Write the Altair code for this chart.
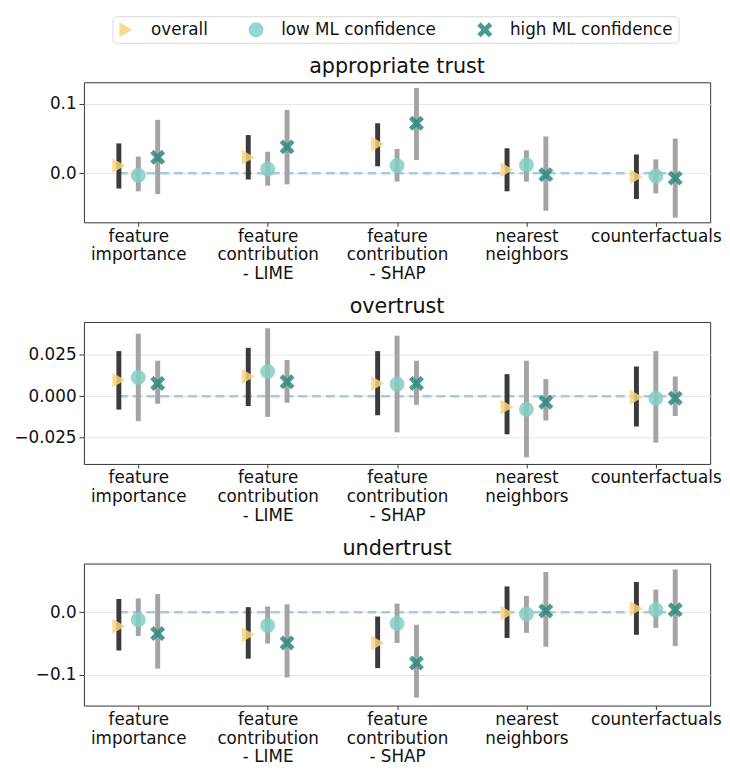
import json
import altair as alt
import pandas as pd

# ---- categories / labels ----
methods = ["feature importance", "feature contribution - LIME", "feature contribution - SHAP",
           "nearest neighbors", "counterfactuals"]
method_lines = [["feature", "importance"], ["feature", "contribution", "- LIME"],
                ["feature", "contribution", "- SHAP"], ["nearest", "neighbors"], ["counterfactuals"]]
groups = ["overall", "low ML confidence", "high ML confidence"]
panels = ["appropriate trust", "overtrust", "undertrust"]

# ---- values: rows = groups (overall, low, high), columns = methods ----
appropriate_mean = [[0.011, 0.023, 0.042, 0.005, -0.005],
                    [-0.003, 0.006, 0.011, 0.012, -0.004],
                    [0.023, 0.038, 0.072, -0.002, -0.007]]
appropriate_lo = [[-0.022, -0.009, 0.010, -0.026, -0.037],
                  [-0.026, -0.018, -0.012, -0.012, -0.029],
                  [-0.030, -0.016, 0.019, -0.054, -0.064]]
appropriate_hi = [[0.043, 0.055, 0.072, 0.036, 0.027],
                  [0.024, 0.031, 0.035, 0.033, 0.020],
                  [0.077, 0.091, 0.123, 0.053, 0.050]]

overtrust_mean = [[0.0097, 0.0119, 0.0077, -0.0065, -0.0006],
                  [0.0113, 0.0149, 0.0073, -0.0079, -0.0012],
                  [0.0077, 0.0087, 0.0077, -0.0036, -0.0012]]
overtrust_lo = [[-0.0081, -0.0060, -0.0115, -0.0230, -0.0183],
                [-0.0151, -0.0125, -0.0218, -0.0369, -0.0280],
                [-0.0046, -0.0040, -0.0052, -0.0147, -0.0119]]
overtrust_hi = [[0.0272, 0.0292, 0.0272, 0.0133, 0.0179],
                [0.0377, 0.0410, 0.0365, 0.0214, 0.0272],
                [0.0214, 0.0218, 0.0214, 0.0103, 0.0119]]

undertrust_mean = [[-0.0225, -0.036, -0.049, -0.0016, 0.006],
                   [-0.012, -0.021, -0.018, -0.003, 0.0037],
                   [-0.034, -0.049, -0.081, 0.002, 0.0037]]
undertrust_lo = [[-0.061, -0.074, -0.089, -0.041, -0.036],
                 [-0.038, -0.050, -0.049, -0.033, -0.025],
                 [-0.090, -0.104, -0.136, -0.055, -0.054]]
undertrust_hi = [[0.021, 0.008, -0.007, 0.041, 0.048],
                 [0.022, 0.009, 0.0136, 0.026, 0.036],
                 [0.029, 0.0126, -0.020, 0.064, 0.068]]

# ---- styling ----
group_offsets = [-0.15, 0.0, 0.15]
group_colors = ["#f7d47e", "#84cfc3", "#2b8a7e"]
bar_colors = ["#3a3a3a", "#a4a4a4", "#a4a4a4"]
X_PATH = ("M-0.55,-1L0,-0.45L0.55,-1L1,-0.55L0.45,0L1,0.55L0.55,1L0,0.45"
          "L-0.55,1L-1,0.55L-0.45,0L-1,-0.55Z")
group_shapes = ["triangle-right", "circle", X_PATH]

label_expr = json.dumps(method_lines) + "[round(datum.value)]"
FONT = "DejaVu Sans"


def make_df(mean, lo, hi):
    rows = []
    for g, grp in enumerate(groups):
        for m, meth in enumerate(methods):
            rows.append(dict(method=meth, group=grp, pos=m + group_offsets[g],
                             mean=mean[g][m], lo=lo[g][m], hi=hi[g][m],
                             barcolor=bar_colors[g]))
    return pd.DataFrame(rows)


def panel(title, mean, lo, hi, ydom, yticks, yfmt, height, first=False):
    df = make_df(mean, lo, hi)
    base = alt.Chart(df)
    xscale = alt.Scale(domain=[-0.42, 4.42], nice=False, zero=False)
    xaxis = alt.Axis(values=[0, 1, 2, 3, 4], labelExpr=label_expr, title=None, grid=False,
                     domain=False, tickSize=4, tickColor="#333", labelFontSize=17,
                     labelLineHeight=19, labelPadding=2, labelColor="#111",
                     labelBaseline="top", labelFont=FONT)
    yscale = alt.Scale(domain=ydom, nice=False, zero=False)
    yaxis = alt.Axis(values=yticks, format=yfmt, title=None, grid=True, gridColor="#e6e6e6",
                     gridWidth=1, domain=False, tickSize=5, tickColor="#333",
                     labelFontSize=17, labelPadding=3, labelColor="#111", labelFont=FONT)

    zero = base.transform_aggregate(
        xmin="min(pos)", xmax="max(pos)"
    ).transform_calculate(zero="0").mark_rule(
        strokeDash=[9, 5], strokeWidth=2.5, color="#a9c9e3"
    ).encode(
        x=alt.X("xmin:Q", scale=xscale, axis=xaxis, title=None),
        x2="xmax:Q",
        y=alt.Y("zero:Q", scale=yscale, axis=yaxis, title=None),
    )

    bars = base.mark_rule(strokeWidth=5).encode(
        x=alt.X("pos:Q", scale=xscale, axis=xaxis, title=None),
        y=alt.Y("lo:Q", scale=yscale, axis=yaxis, title=None),
        y2="hi:Q",
        color=alt.Color("barcolor:N", scale=None),
    )

    legend = None
    if first:
        legend = alt.Legend(
            title=None, orient="none", direction="horizontal", legendX=29, legendY=-67,
            labelFontSize=17, labelFont=FONT, labelColor="#111", labelLimit=0,
            symbolSize=230, symbolStrokeWidth=0, symbolOpacity=0.85,
            strokeColor="#d9d9d9", fillColor="white", cornerRadius=4, padding=5,
            columnPadding=40, labelOffset=17,
        )
    pts = base.mark_point(filled=True, size=230, opacity=0.85, strokeWidth=0).encode(
        x=alt.X("pos:Q", scale=xscale, axis=xaxis, title=None),
        y=alt.Y("mean:Q", scale=yscale, axis=yaxis, title=None),
        shape=alt.Shape("group:N", scale=alt.Scale(domain=groups, range=group_shapes),
                        legend=legend),
        fill=alt.Fill("group:N", scale=alt.Scale(domain=groups, range=group_colors),
                      legend=legend),
    )

    return alt.layer(zero, bars, pts).properties(
        width=635, height=height,
        title=alt.TitleParams(title, fontSize=21, fontWeight="normal", font=FONT,
                              color="#111", offset=5),
    )


p1 = panel(panels[0], appropriate_mean, appropriate_lo, appropriate_hi,
           [-0.0707, 0.131], [0.0, 0.1], ".1f", 142, first=True)
p2 = panel(panels[1], overtrust_mean, overtrust_lo, overtrust_hi,
           [-0.0409, 0.0448], [-0.025, 0.0, 0.025], ".3f", 144)
p3 = panel(panels[2], undertrust_mean, undertrust_lo, undertrust_hi,
           [-0.1487, 0.0774], [-0.1, 0.0], ".1f", 144)

chart = alt.vconcat(p1, p2, p3, spacing=13).properties(
    padding={"left": 5, "top": 2, "right": 0, "bottom": 0}
).configure(font=FONT).configure_view(stroke="#333", strokeWidth=1)

chart.save("out.html", embed_options={"renderer": "svg", "actions": False})
